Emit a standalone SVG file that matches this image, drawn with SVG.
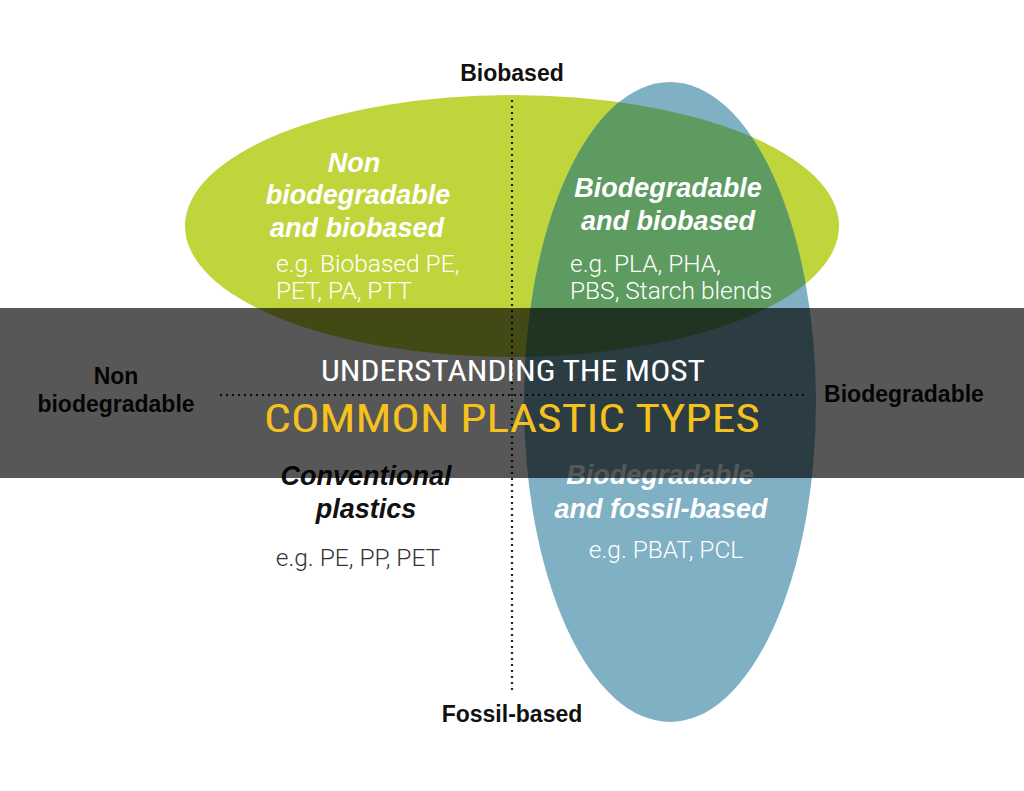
<svg xmlns="http://www.w3.org/2000/svg" width="1024" height="791" viewBox="0 0 1024 791">
<style>
.ax{font-family:"Liberation Sans",Arial,sans-serif;font-weight:bold;font-size:23px;fill:#111;text-anchor:middle}
.hd{font-family:"Liberation Sans",Arial,sans-serif;font-weight:bold;font-style:italic;font-size:27px;text-anchor:middle}
.eg{font-family:Roboto,"Liberation Sans",sans-serif;font-weight:300;font-size:24.5px}
.dot{stroke:#222;stroke-width:2.2;stroke-dasharray:2 4;fill:none}
.ban{font-family:"Roboto Condensed","Liberation Sans Narrow",Roboto,sans-serif;text-anchor:middle}
</style>
<defs>
<clipPath id="gclip"><ellipse cx="512" cy="226" rx="327" ry="131"/></clipPath>
</defs>
<rect width="1024" height="791" fill="#ffffff"/>
<g id="biobased-ellipse"><ellipse cx="512" cy="226" rx="327" ry="131" fill="#c0d53c"/></g>
<g id="biodegradable-ellipse"><ellipse cx="670" cy="402" rx="146" ry="320" fill="#7fb0c4"/>
<ellipse cx="670" cy="402" rx="146" ry="320" fill="#5e9b61" clip-path="url(#gclip)"/></g>
<g id="connectors">
<line class="dot" x1="512" y1="100" x2="512" y2="690"/>
<line class="dot" x1="220" y1="395" x2="808" y2="395"/>
</g>
<g id="axis-biobased"><text class="ax" x="512" y="81">Biobased</text></g>
<g id="axis-fossil"><text class="ax" x="512" y="722">Fossil-based</text></g>
<g id="axis-nonbio"><text class="ax" x="116" y="384">Non</text><text class="ax" x="116" y="412">biodegradable</text></g>
<g id="axis-bio"><text class="ax" x="904" y="402">Biodegradable</text></g>
<g id="node-nonbio-biobased">
<text class="hd" x="354" y="172" fill="#fff">Non</text>
<text class="hd" x="358" y="204" fill="#fff">biodegradable</text>
<text class="hd" x="357" y="237" fill="#fff">and biobased</text>
<text class="eg" x="276" y="272" fill="#fff">e.g. Biobased PE,</text>
<text class="eg" x="276" y="299" fill="#fff">PET, PA, PTT</text>
</g>
<g id="node-bio-biobased">
<text class="hd" x="668" y="197" fill="#fff">Biodegradable</text>
<text class="hd" x="668" y="230" fill="#fff">and biobased</text>
<text class="eg" x="570" y="272" fill="#fff">e.g. PLA, PHA,</text>
<text class="eg" x="570" y="299" fill="#fff">PBS, Starch blends</text>
</g>
<g id="node-conventional">
<text class="hd" x="366" y="485" fill="#111">Conventional</text>
<text class="hd" x="366" y="518" fill="#111">plastics</text>
<text class="eg" x="358" y="566" fill="#333" text-anchor="middle">e.g. PE, PP, PET</text>
</g>
<g id="node-bio-fossil">
<text class="hd" x="660" y="484" fill="#fff">Biodegradable</text>
<text class="hd" x="661" y="518" fill="#fff">and fossil-based</text>
<text class="eg" x="666" y="558" fill="#fff" text-anchor="middle">e.g. PBAT, PCL</text>
</g>
<g id="banner">
<rect x="0" y="308" width="1024" height="170" fill="#000" fill-opacity="0.66"/>
<text class="ban" x="513" y="381" font-size="30" fill="#ffffff" textLength="384" lengthAdjust="spacingAndGlyphs">UNDERSTANDING THE MOST</text>
<text class="ban" x="512" y="432" font-size="39" fill="#f5c11e" textLength="496" lengthAdjust="spacingAndGlyphs">COMMON PLASTIC TYPES</text>
</g>
</svg>
